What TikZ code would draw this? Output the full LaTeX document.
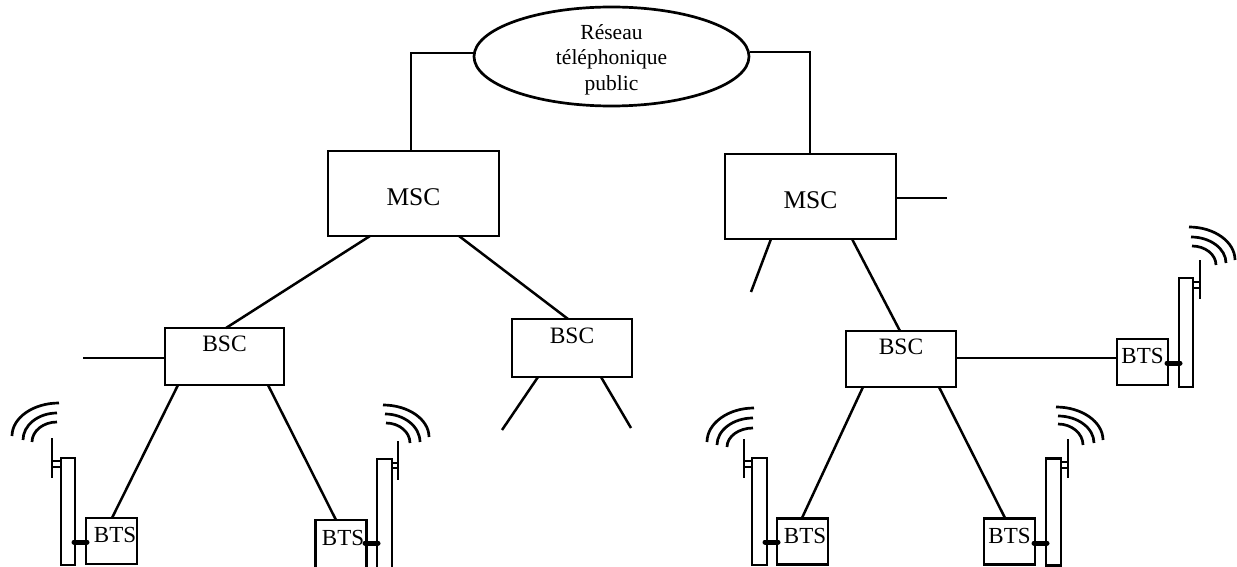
\documentclass[tikz,border=0pt]{standalone}
\usepackage{fontspec}
\setmainfont{Liberation Serif}
\usetikzlibrary{calc,shapes.geometric}
\tikzset{
  x=1pt,y=-1pt,
  box/.style={draw=black,line width=2.7pt,rectangle,inner sep=0pt,anchor=center,fill=none},
  msc/.style={box,minimum width=171pt,minimum height=85pt,font=\fontsize{25.5}{25.5}\selectfont,text height=30pt,text depth=7pt},
  bsc/.style={box,font=\fontsize{23.5}{23.5}\selectfont,text height=16pt,text depth=26pt},
  bts/.style={box,minimum width=51pt,minimum height=46pt,font=\fontsize{23}{23}\selectfont,text height=19pt,text depth=16pt},
  tower/.style={box,line width=2.4pt,minimum width=14.5pt},
  cloud/.style={draw=black,line width=2.7pt,ellipse,inner xsep=0pt,inner ysep=-6pt,minimum width=275pt,minimum height=99pt,
    align=center,font=\fontsize{21.5}{25.5}\selectfont},
  link/.style={draw=black,line width=2.5pt},
  feed/.style={draw=black,line width=5pt,line cap=round},
  mast/.style={draw=black,line width=2.7pt},
  strut/.style={draw=black,line width=2pt},
  wave/.style={draw=black,line width=2.7pt}
}
\newcommand{\qarc}[4]{\draw[wave] (#1,#2) .. controls ($(#1,#2)!0.55!(#1,#4)$) and ($(#3,#4)!0.55!(#1,#4)$) .. (#3,#4);}
\begin{document}
\begin{tikzpicture}
\useasboundingbox (0,0) rectangle (1237,567);
% network
\node[cloud] (pstn) at (611.5,56.5) {\rule{0pt}{21pt}Réseau\\téléphonique\\public};
\node[msc] (msca) at (413.5,193.5) {MSC};
\node[msc] (mscb) at (810.5,196.5) {MSC};
\node[bsc,minimum width=119pt,minimum height=57pt] (bsca) at (224.5,356.5) {BSC};
\node[bsc,minimum width=120pt,minimum height=58pt] (bscb) at (572,348) {BSC};
\node[bsc,minimum width=110pt,minimum height=56pt] (bscc) at (901,359) {BSC};
% BTS boxes
\node[bts] (btsa) at (111.5,541) {\kern7pt BTS};
\node[bts,minimum height=48pt] (btsb) at (341,544) {\kern4pt BTS};
\node[bts] (btsc) at (802.5,541.5) {\kern5pt BTS};
\node[bts] (btsd) at (1009.5,541.5) {BTS};
\node[bts] (btse) at (1142.5,362) {BTS};
% towers
\node[tower,minimum height=107pt] (towa) at (68,511.5) {};
\node[tower,minimum height=110pt] (towb) at (384.5,514) {};
\node[tower,minimum height=107pt] (towc) at (759.5,511.5) {};
\node[tower,minimum height=107pt] (towd) at (1053.5,512) {};
\node[tower,minimum height=109pt] (towe) at (1186,332.5) {};
% backbone connectors
\coordinate (pa) at (411,53);
\coordinate (pb) at (810,52);
\draw[link] (pstn.west |- pa) -- (pa) -- (pa |- msca.north);
\draw[link] (pstn.east |- pb) -- (pb) -- (pb |- mscb.north);
\coordinate (ma1) at (370,236);
\coordinate (ma2) at (459,236);
\coordinate (ba) at (226,328);
\coordinate (bb) at (568,319);
\draw[link] (ma1) -- (ba);
\draw[link] (ma2) -- (bb);
\coordinate (mb1) at (852,239);
\coordinate (bc) at (900,331);
\draw[link] (mb1) -- (bc);
% free stubs
\coordinate (sa) at (947,198);
\draw[link] (mscb.east |- sa) -- (sa);
\coordinate (sb0) at (771,239);
\coordinate (sb) at (751,292);
\draw[link] (sb0) -- (sb);
\coordinate (sc) at (83,358);
\draw[link] (sc) -- (bsca.west |- sc);
\coordinate (sd0) at (538,377);
\coordinate (sd) at (502,430);
\draw[link] (sd0) -- (sd);
\coordinate (se0) at (601,377);
\coordinate (se) at (631,428);
\draw[link] (se0) -- (se);
% BSC to BTS
\coordinate (la0) at (178,385);
\coordinate (la) at (112,518);
\draw[link] (la0) -- (la);
\coordinate (lb0) at (268,385);
\coordinate (lb) at (336,520);
\draw[link] (lb0) -- (lb);
\coordinate (lc0) at (863,387);
\coordinate (lc) at (802,518);
\draw[link] (lc0) -- (lc);
\coordinate (ld0) at (939,387);
\coordinate (ld) at (1005,518);
\draw[link] (ld0) -- (ld);
\coordinate (le) at (956,358);
\draw[link] (le) -- (btse.west |- le);
% feeders BTS-tower
\coordinate (fa0) at (74,542); \coordinate (fa1) at (87,542);
\draw[feed] (fa0) -- (fa1);
\coordinate (fb0) at (365,543); \coordinate (fb1) at (378,543);
\draw[feed] (fb0) -- (fb1);
\coordinate (fc0) at (765,542); \coordinate (fc1) at (778,542);
\draw[feed] (fc0) -- (fc1);
\coordinate (fd0) at (1034,543); \coordinate (fd1) at (1047,543);
\draw[feed] (fd0) -- (fd1);
\coordinate (fe0) at (1167,363); \coordinate (fe1) at (1180,363);
\draw[feed] (fe0) -- (fe1);
% antennas
\draw[mast] (52,438) -- (52,478);
\draw[strut] (52,461) -- (61,461) (52,467) -- (61,467);
\qarc{12}{436}{59}{403}\qarc{23}{440}{57}{413}\qarc{32}{442}{57}{422}
\draw[mast] (398,441) -- (398,480);
\draw[strut] (398,463) -- (391,463) (398,468) -- (391,468);
\qarc{429}{437}{383}{405}\qarc{420}{442}{385}{414}\qarc{410}{443}{386}{423}
\draw[mast] (744,439) -- (744,478);
\draw[strut] (744,461) -- (752,461) (744,467) -- (752,467);
\qarc{707}{442}{754}{408}\qarc{717}{445}{753}{418}\qarc{727}{447}{753}{428}
\draw[mast] (1068,439) -- (1068,478);
\draw[strut] (1068,462) -- (1061,462) (1068,468) -- (1061,468);
\qarc{1103}{440}{1056}{407}\qarc{1094}{443}{1058}{416}\qarc{1083}{445}{1058}{424}
\draw[mast] (1200,260) -- (1200,299);
\draw[strut] (1200,282) -- (1193,282) (1200,288) -- (1193,288);
\qarc{1235}{260}{1189}{227}\qarc{1226}{263}{1191}{237}\qarc{1216}{265}{1192}{246}
\end{tikzpicture}
\end{document}
